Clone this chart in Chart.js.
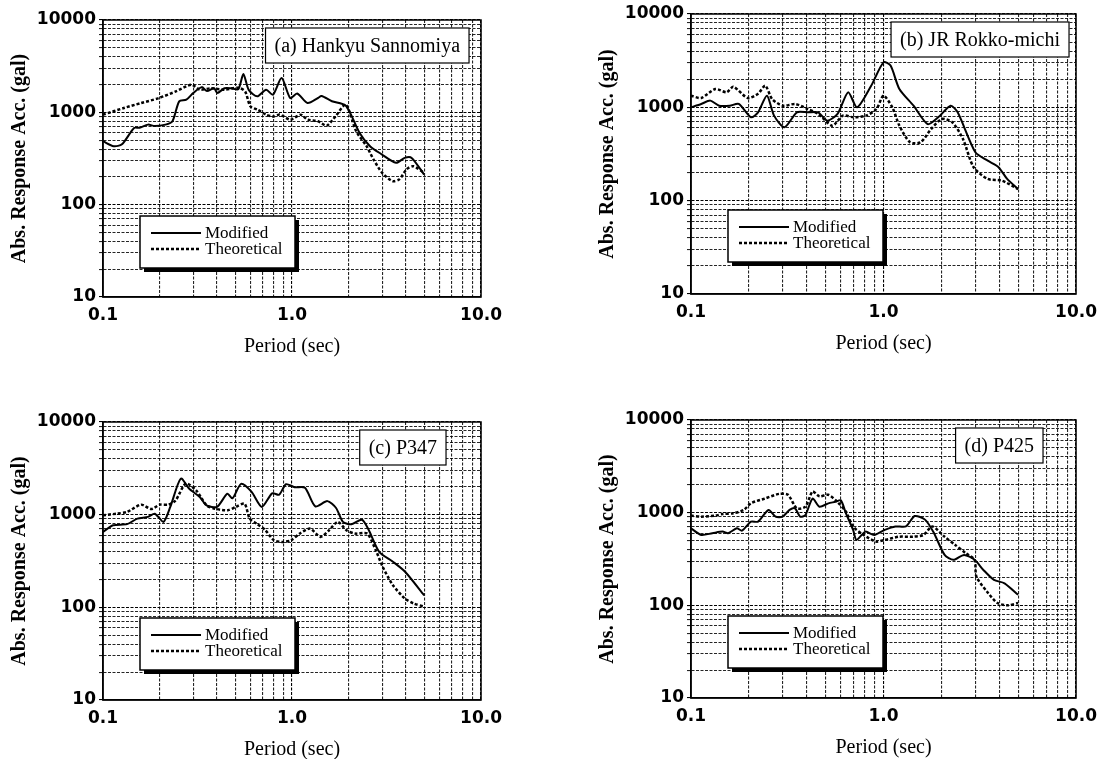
<!DOCTYPE html>
<html>
<head>
<meta charset="utf-8">
<script src="https://cdn.jsdelivr.net/npm/chart.js@4.4.1/dist/chart.umd.min.js"></script>
<style>
  html, body { margin: 0; padding: 0; background: #fff; overflow: hidden; }
  body { width: 1105px; height: 759px; position: relative; }
  .panel { position: absolute; }
</style>
</head>
<body>
<div class="panel" style="left:0;top:0;width:510px;height:380px"><canvas id="chartA"></canvas></div>
<div class="panel" style="left:588px;top:0;width:517px;height:380px"><canvas id="chartB"></canvas></div>
<div class="panel" style="left:0;top:380px;width:510px;height:382px"><canvas id="chartC"></canvas></div>
<div class="panel" style="left:588px;top:380px;width:517px;height:382px"><canvas id="chartD"></canvas></div>
<script>
// tick positions of the log-log grid
const xTickValues = [0.1, 0.2, 0.3, 0.4, 0.5, 0.6, 0.7, 0.8, 0.9, 1, 2, 3, 4, 5, 6, 7, 8, 9, 10];
const yTickValues = [10, 20, 30, 40, 50, 60, 70, 80, 90, 100, 200, 300, 400, 500, 600, 700, 800, 900,
                     1000, 2000, 3000, 4000, 5000, 6000, 7000, 8000, 9000, 10000];
const xTickLabels = { 0.1: '0.1', 1: '1.0', 10: '10.0' };
const yTickLabels = { 10: '10', 100: '100', 1000: '1000', 10000: '10000' };
const seriesNames = ['Modified', 'Theoretical'];

// (a) Hankyu Sannomiya
const aModPeriod = [0.1, 0.114, 0.126, 0.146, 0.156, 0.173, 0.188, 0.214, 0.233, 0.253, 0.276, 0.3, 0.333, 0.355, 0.387, 0.403, 0.439, 0.477, 0.52, 0.553, 0.59, 0.655, 0.729, 0.793, 0.881, 0.979, 1.065, 1.209, 1.373, 1.432, 1.626, 1.925, 2.279, 2.587, 2.937, 3.552, 3.947, 4.295, 5.0];
const aModAcc = [486, 430, 450, 677, 680, 736, 710, 736, 800, 1315, 1370, 1617, 1875, 1700, 1820, 1620, 1820, 1820, 1780, 2600, 1750, 1490, 1760, 1550, 2350, 1425, 1600, 1260, 1430, 1500, 1320, 1180, 598, 430, 358, 284, 321, 321, 212];
const aTheoPeriod = [0.1, 0.129, 0.159, 0.197, 0.243, 0.294, 0.326, 0.371, 0.439, 0.52, 0.565, 0.602, 0.655, 0.729, 0.793, 0.863, 0.979, 1.111, 1.209, 1.373, 1.526, 1.696, 1.925, 2.185, 2.48, 2.7, 3.0, 3.405, 3.706, 4.033, 4.387, 5.0];
const aTheoAcc = [944, 1114, 1260, 1425, 1685, 1990, 1760, 1820, 1760, 1850, 1680, 1160, 1070, 944, 900, 944, 833, 944, 833, 800, 718, 900, 1210, 624, 430, 308, 221, 180, 189, 241, 261, 221];

// (b) JR Rokko-michi
const bModPeriod = [0.1, 0.113, 0.126, 0.14, 0.159, 0.177, 0.205, 0.223, 0.248, 0.27, 0.306, 0.355, 0.403, 0.458, 0.509, 0.577, 0.655, 0.729, 0.863, 1.0, 1.088, 1.209, 1.432, 1.696, 1.925, 2.232, 2.428, 3.0, 3.477, 3.947, 4.387, 5.0];
const bModAcc = [1000, 1086, 1180, 1040, 1040, 1086, 782, 884, 1333, 815, 611, 884, 884, 884, 720, 849, 1448, 1000, 1706, 3034, 2800, 1572, 1040, 660, 782, 1040, 884, 330, 268, 230, 171, 133];
const bTheoPeriod = [0.1, 0.113, 0.134, 0.153, 0.166, 0.197, 0.223, 0.243, 0.264, 0.3, 0.348, 0.403, 0.458, 0.542, 0.615, 0.698, 0.81, 0.919, 1.0, 1.111, 1.209, 1.373, 1.558, 1.769, 2.009, 2.279, 2.587, 2.937, 3.477, 4.119, 5.0];
const bTheoAcc = [1333, 1260, 1572, 1450, 1660, 1260, 1400, 1706, 1226, 1040, 1086, 960, 850, 636, 815, 782, 815, 960, 1333, 1000, 636, 422, 422, 586, 750, 690, 458, 228, 171, 164, 133];

// (c) P347
const cModPeriod = [0.1, 0.113, 0.134, 0.152, 0.173, 0.188, 0.209, 0.227, 0.258, 0.286, 0.325, 0.353, 0.401, 0.455, 0.484, 0.538, 0.61, 0.692, 0.785, 0.854, 0.929, 1.032, 1.171, 1.328, 1.539, 1.71, 1.86, 2.066, 2.344, 2.549, 2.893, 3.42, 3.964, 5.0];
const cModAcc = [652, 769, 790, 907, 946, 1025, 836, 1213, 2450, 1900, 1552, 1262, 1213, 1686, 1500, 2150, 1770, 1213, 1700, 1640, 2130, 1980, 1950, 1230, 1400, 1180, 836, 790, 880, 680, 397, 310, 242, 135];
const cTheoPeriod = [0.1, 0.118, 0.134, 0.159, 0.18, 0.2, 0.222, 0.242, 0.274, 0.311, 0.353, 0.392, 0.455, 0.505, 0.561, 0.597, 0.65, 0.722, 0.802, 0.891, 0.99, 1.099, 1.247, 1.415, 1.572, 1.746, 1.94, 2.154, 2.496, 2.774, 3.017, 3.42, 3.964, 4.403, 5.0];
const cTheoAcc = [985, 1025, 1070, 1283, 1150, 1283, 1283, 1420, 2163, 1830, 1262, 1160, 1113, 1213, 1313, 907, 800, 680, 530, 508, 530, 625, 707, 575, 680, 836, 680, 625, 625, 414, 274, 173, 124, 110, 102];

// (d) P425
const dModPeriod = [0.1, 0.113, 0.129, 0.146, 0.156, 0.173, 0.184, 0.205, 0.223, 0.253, 0.275, 0.299, 0.325, 0.347, 0.369, 0.393, 0.428, 0.465, 0.517, 0.563, 0.6, 0.638, 0.695, 0.724, 0.805, 0.894, 1.015, 1.152, 1.307, 1.452, 1.648, 1.83, 2.077, 2.308, 2.619, 2.972, 3.302, 3.747, 4.252, 5.0];
const dModAcc = [678, 575, 600, 625, 600, 678, 640, 800, 800, 1070, 905, 905, 1070, 1115, 905, 945, 1420, 1160, 1260, 1310, 1360, 985, 652, 508, 624, 575, 652, 710, 710, 920, 836, 600, 350, 310, 350, 310, 241, 188, 173, 130];
const dTheoPeriod = [0.1, 0.113, 0.134, 0.146, 0.166, 0.188, 0.205, 0.242, 0.287, 0.319, 0.354, 0.393, 0.428, 0.465, 0.517, 0.575, 0.638, 0.695, 0.788, 0.913, 1.015, 1.2, 1.422, 1.613, 1.792, 2.077, 2.357, 2.675, 2.972, 3.035, 3.444, 3.908, 4.435, 5.0];
const dTheoAcc = [930, 905, 930, 968, 985, 1070, 1265, 1420, 1597, 1560, 1115, 1160, 1690, 1500, 1560, 1310, 1025, 710, 575, 488, 508, 550, 550, 575, 710, 550, 449, 365, 310, 205, 141, 106, 100, 106];

const tickFont = { family: 'DejaVu Sans', size: 17, weight: 'bold' };
const serif = 'Liberation Serif';

function toPoints(periods, values) {
    return periods.map((p, i) => ({ x: p, y: values[i] }));
}

// frame, station label (top right) and legend with shadow (lower left)
const boxesPlugin = {
    id: 'boxes',
    afterDatasetsDraw(chart, args, opts) {
        const ctx = chart.ctx;
        const area = chart.chartArea;
        ctx.save();
        ctx.strokeStyle = '#000';
        ctx.lineWidth = 1.5;
        ctx.setLineDash([]);
        ctx.strokeRect(area.left, area.top, area.right - area.left, area.bottom - area.top);

        // station label
        ctx.font = '20px "' + serif + '"';
        const tw = ctx.measureText(opts.label).width;
        const bw = tw + 18, bh = 35;
        const bx = area.right - opts.labelRight - bw, by = area.top + 8;
        ctx.fillStyle = '#fff';
        ctx.fillRect(bx, by, bw, bh);
        ctx.lineWidth = 1.2;
        ctx.strokeRect(bx, by, bw, bh);
        ctx.fillStyle = '#000';
        ctx.textBaseline = 'middle';
        ctx.textAlign = 'left';
        ctx.fillText(opts.label, bx + 9, by + bh / 2 + 1);

        // legend
        const lx = area.left + 37, ly = area.top + 196, lw = 155, lh = 52;
        ctx.fillStyle = '#000';
        ctx.fillRect(lx + 4, ly + 4, lw, lh);
        ctx.fillStyle = '#fff';
        ctx.fillRect(lx, ly, lw, lh);
        ctx.lineWidth = 1.5;
        ctx.strokeRect(lx, ly, lw, lh);
        ctx.font = '17px "' + serif + '"';
        chart.data.datasets.forEach((ds, i) => {
            const y = ly + 17 + i * 16;
            ctx.strokeStyle = '#000';
            ctx.lineWidth = ds.borderWidth;
            ctx.setLineDash(ds.borderDash || []);
            ctx.beginPath();
            ctx.moveTo(lx + 11, y);
            ctx.lineTo(lx + 61, y);
            ctx.stroke();
            ctx.setLineDash([]);
            ctx.fillStyle = '#000';
            ctx.fillText(ds.label, lx + 65, y + 1);
        });
        ctx.restore();
    }
};

function gridColor(ctx) {
    const v = ctx.tick && ctx.tick.value;
    return (v === 0.1 || v === 1 || v === 10 || v === 100 || v === 1000 || v === 10000) ? '#000' : 'rgba(0,0,0,0.85)';
}

function makePanel(p) {
    new Chart(document.getElementById(p.id), {
        type: 'line',
        data: {
            datasets: [{
                label: seriesNames[0],
                data: toPoints(p.modPeriod, p.modAcc),
                borderColor: '#000',
                borderWidth: 2,
                borderDash: [],
                pointRadius: 0,
                tension: 0.25
            }, {
                label: seriesNames[1],
                data: toPoints(p.theoPeriod, p.theoAcc),
                borderColor: '#000',
                borderWidth: 2.5,
                borderDash: [3, 2],
                pointRadius: 0,
                tension: 0.25
            }]
        },
        options: {
            responsive: true,
            maintainAspectRatio: false,
            animation: false,
            layout: { padding: p.pad },
            plugins: {
                legend: { display: false },
                tooltip: { enabled: false },
                boxes: { label: p.label, labelRight: p.labelRight }
            },
            scales: {
                x: {
                    type: 'logarithmic',
                    min: 0.1,
                    max: 10,
                    afterBuildTicks: s => { s.ticks = xTickValues.map(v => ({ value: v })); },
                    afterFit: s => { s.height = 62; },
                    ticks: {
                        autoSkip: false, maxRotation: 0, padding: 8, color: '#000', font: tickFont,
                        callback: v => xTickLabels[v] || ''
                    },
                    grid: { color: gridColor, lineWidth: 1.1, drawTicks: false },
                    border: { display: true, color: '#000', width: 1.5, dash: [3, 1.5] },
                    title: {
                        display: true, text: 'Period (sec)', color: '#000',
                        font: { family: serif, size: 20 }, padding: { top: 0, bottom: 0 }
                    }
                },
                y: {
                    type: 'logarithmic',
                    min: 10,
                    max: 10000,
                    afterBuildTicks: s => { s.ticks = yTickValues.map(v => ({ value: v })); },
                    afterFit: s => { s.width = 103; },
                    ticks: {
                        autoSkip: false, padding: 3, color: '#000', font: tickFont,
                        callback: v => yTickLabels[v] || ''
                    },
                    grid: { color: gridColor, lineWidth: 1.1, drawTicks: true, tickLength: 4 },
                    border: { display: true, color: '#000', width: 1.5, dash: [3, 1.5] },
                    title: {
                        display: true, text: 'Abs. Response Acc. (gal)', color: '#000',
                        font: { family: serif, size: 20, weight: 'bold' }, padding: { top: 8, bottom: 0 }
                    }
                }
            }
        },
        plugins: [boxesPlugin]
    });
}

makePanel({ id: 'chartA', label: '(a) Hankyu Sannomiya', labelRight: 12,
    modPeriod: aModPeriod, modAcc: aModAcc, theoPeriod: aTheoPeriod, theoAcc: aTheoAcc,
    pad: { top: 20, right: 18, bottom: 21, left: 0 } });
makePanel({ id: 'chartB', label: '(b) JR Rokko-michi', labelRight: 7,
    modPeriod: bModPeriod, modAcc: bModAcc, theoPeriod: bTheoPeriod, theoAcc: bTheoAcc,
    pad: { top: 14, right: 25, bottom: 24, left: 0 } });
makePanel({ id: 'chartC', label: '(c) P347', labelRight: 35,
    modPeriod: cModPeriod, modAcc: cModAcc, theoPeriod: cTheoPeriod, theoAcc: cTheoAcc,
    pad: { top: 42, right: 16, bottom: 0, left: 0 } });
makePanel({ id: 'chartD', label: '(d) P425', labelRight: 33,
    modPeriod: dModPeriod, modAcc: dModAcc, theoPeriod: dTheoPeriod, theoAcc: dTheoAcc,
    pad: { top: 40, right: 25, bottom: 2, left: 0 } });
</script>
</body>
</html>
